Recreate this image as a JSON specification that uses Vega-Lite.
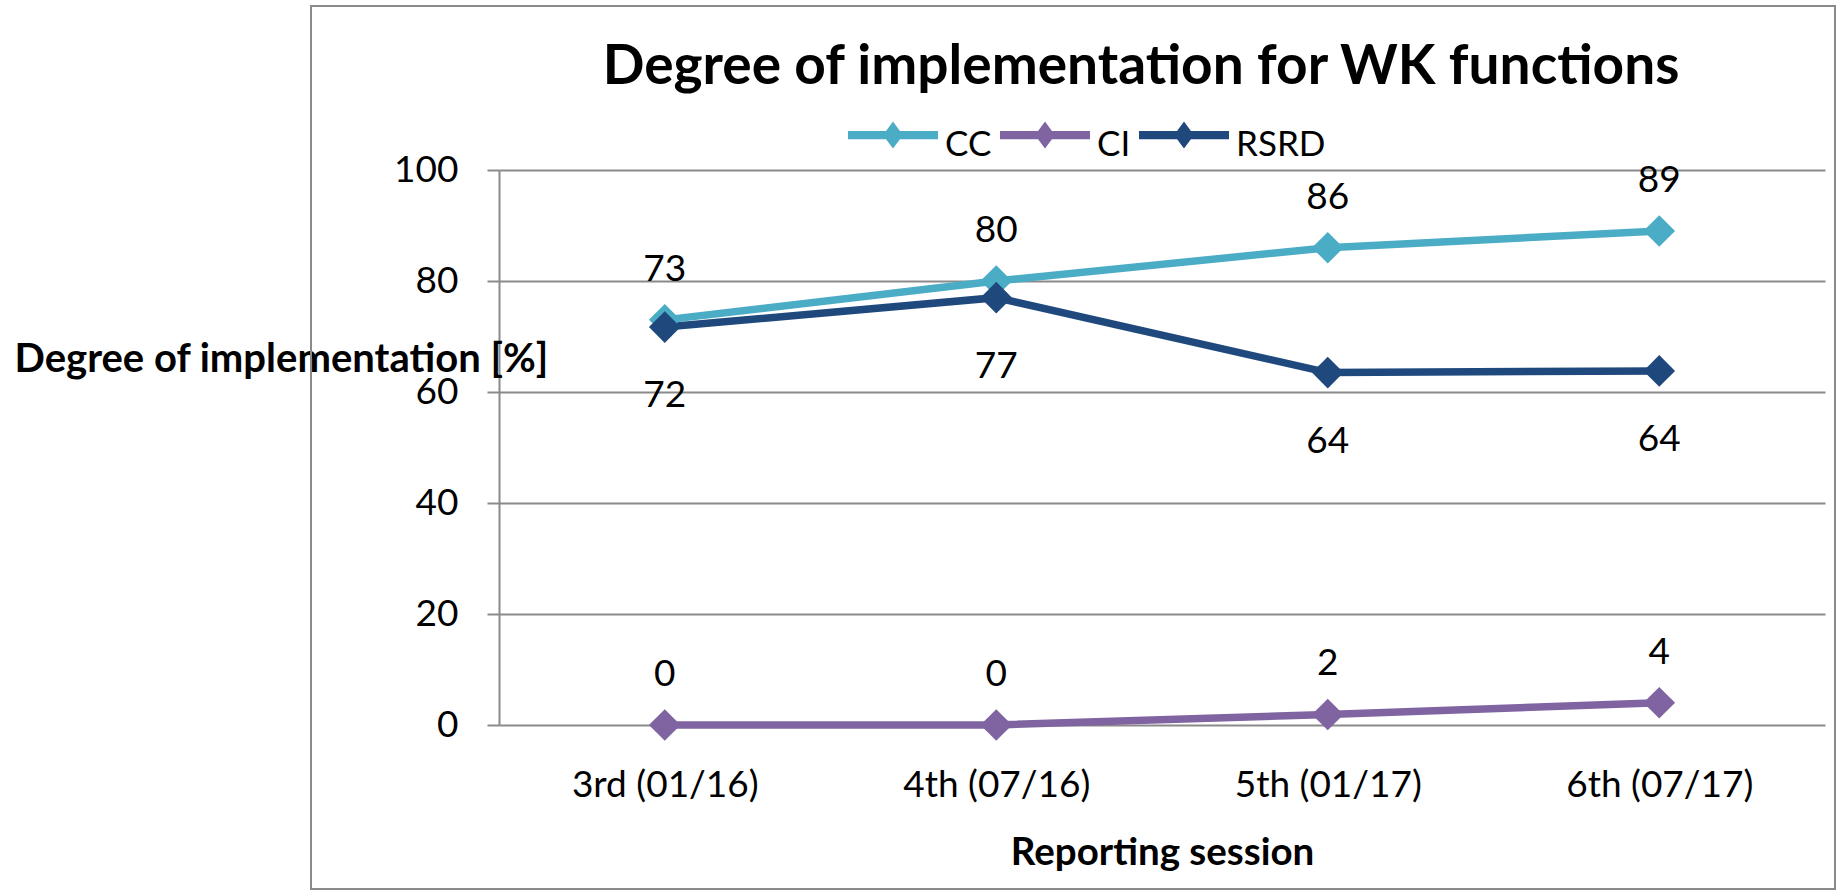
{
  "$schema": "https://vega.github.io/schema/vega-lite/v6.json",
  "width": 1326,
  "height": 555,
  "autosize": {"type": "none"},
  "padding": {"left": 499, "top": 170, "right": 16, "bottom": 166},
  "background": "white",
  "config": {"view": {"stroke": null}, "font": "Lato", "text": {"font": "Lato"}},
  "title": {"text": "Degree of implementation for WK functions", "fontSize": 55, "font": "Lato", "fontWeight": "bold", "color": "black", "anchor": "middle", "frame": "group", "dx": -21, "offset": -90},
  "data": {"values": [
    {"session": "3rd (01/16)", "series": "CC", "value": 73},
    {"session": "4th (07/16)", "series": "CC", "value": 80},
    {"session": "5th (01/17)", "series": "CC", "value": 86},
    {"session": "6th (07/17)", "series": "CC", "value": 89},
    {"session": "3rd (01/16)", "series": "CI", "value": 0},
    {"session": "4th (07/16)", "series": "CI", "value": 0},
    {"session": "5th (01/17)", "series": "CI", "value": 1.9},
    {"session": "6th (07/17)", "series": "CI", "value": 4},
    {"session": "3rd (01/16)", "series": "RSRD", "value": 71.7},
    {"session": "4th (07/16)", "series": "RSRD", "value": 77},
    {"session": "5th (01/17)", "series": "RSRD", "value": 63.5},
    {"session": "6th (07/17)", "series": "RSRD", "value": 63.8}
  ]},
  "encoding": {
    "x": {"field": "session", "type": "nominal", "sort": null,
      "scale": {"type": "point", "padding": 0.5},
      "axis": {"title": "Reporting session", "labelAngle": 0, "ticks": false, "domain": false, "grid": false, "labelLimit": 0,
        "labelFontSize": 37, "labelColor": "black", "labelPadding": 42, "labelFont": "Lato",
        "titleFontSize": 38.5, "titleFontWeight": "bold", "titleColor": "black", "titleFont": "Lato", "titlePadding": 31}},
    "y": {"field": "value", "type": "quantitative",
      "scale": {"domain": [0, 100], "nice": false},
      "axis": {"title": "Degree of implementation [%]", "titleAngle": 0, "titleAlign": "left", "titleBaseline": "middle",
        "titleX": -485, "titleY": 189, "titleFontSize": 40, "titleFontWeight": "bold", "titleColor": "black", "titleFont": "Lato",
        "values": [0, 20, 40, 60, 80, 100], "labelFontSize": 37, "labelColor": "black", "labelFont": "Lato", "labelPadding": 29,
        "tickSize": 12, "tickColor": "#8a8a8a", "tickWidth": 2, "domainColor": "#8a8a8a", "domainWidth": 2,
        "gridColor": "#8a8a8a", "gridWidth": 2}},
    "color": {"field": "series", "type": "nominal",
      "scale": {"domain": ["CC", "CI", "RSRD"], "range": ["#4BACC6", "#8064A2", "#1F497D"]},
      "legend": {"orient": "none", "legendX": 349, "legendY": -70, "direction": "horizontal", "title": null,
        "symbolType": "M-1,-0.31L-0.154,-0.31L0,-0.52L0.154,-0.31L1,-0.31L1,-0.13L0.154,-0.13L0,0.08L-0.154,-0.13L-1,-0.13Z",
        "symbolSize": 8100, "symbolStrokeWidth": 0, "labelFontSize": 35, "labelFont": "Lato", "labelColor": "black",
        "columnPadding": 8, "labelOffset": 7, "labelBaseline": "middle",
        "encode": {"symbols": {"update": {"fill": {"scale": "color", "field": "value"}, "strokeWidth": {"value": 0}, "opacity": {"value": 1}}}}}}
  },
  "layer": [
    {"mark": {"type": "line", "strokeWidth": 7.5}},
    {"mark": {"type": "point", "shape": "diamond", "filled": true, "size": 1000, "opacity": 1}},
    {"transform": [{"filter": "datum.series !== 'RSRD'"}],
     "mark": {"type": "text", "fontSize": 37, "dy": -50, "baseline": "middle"},
     "encoding": {"text": {"field": "value", "type": "quantitative", "format": ".0f"}, "color": {"value": "black"},
       "fill": {"field": "value", "type": "quantitative", "scale": {"range": ["black", "black"]},
         "legend": {"orient": "none", "legendX": -188, "legendY": -164, "direction": "horizontal", "title": null,
           "values": [], "labelFontSize": 0,
           "gradientLength": 1524, "gradientThickness": 883, "gradientStrokeColor": "#8a8a8a", "gradientStrokeWidth": 2, "padding": 0,
           "encode": {"gradient": {"update": {"fill": {"value": "transparent"}}}}}}}},
    {"transform": [{"filter": "datum.series === 'RSRD'"}],
     "mark": {"type": "text", "fontSize": 37, "color": "black", "dy": 69, "baseline": "middle"},
     "encoding": {"text": {"field": "value", "type": "quantitative", "format": ".0f"}, "color": {"value": "black"}}}
  ]
}
